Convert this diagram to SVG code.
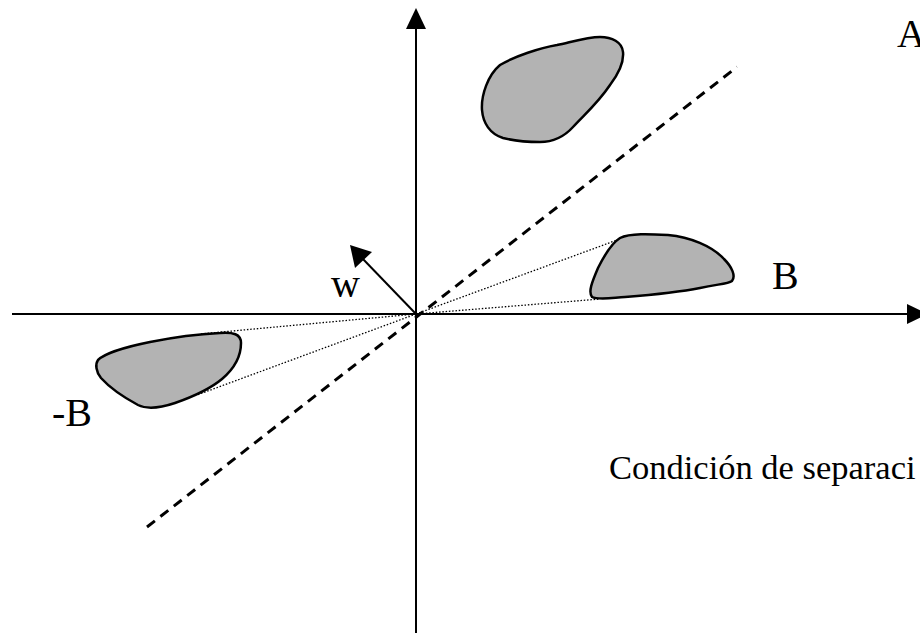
<svg xmlns="http://www.w3.org/2000/svg" width="920" height="633" viewBox="0 0 920 633">
<style>
.axis{stroke:#000;stroke-width:2;fill:none}
.blob{fill:#b3b3b3;stroke:#000;stroke-width:2.5;stroke-linejoin:round}
.dot{stroke:#000;stroke-width:1.3;stroke-dasharray:1.5 1.8;fill:none}
.dash{stroke:#000;stroke-width:3;stroke-dasharray:10 7;fill:none}
.lbl{font-family:"Liberation Serif","Times New Roman",serif;font-size:40px;fill:#000}
.cap{font-family:"Liberation Serif","Times New Roman",serif;font-size:34.5px;fill:#000}
</style>
<rect width="920" height="633" fill="#fff"/>
<g id="connectors">
<line class="axis" x1="416" y1="26" x2="416" y2="633"/>
<polygon points="416,8 406,29 426,29" fill="#000"/>
<line class="axis" x1="12" y1="314" x2="910" y2="314"/>
<polygon points="928,314 907,304 907,324" fill="#000"/>
<line class="dash" x1="147" y1="527" x2="737" y2="67"/>
<line class="dot" x1="416" y1="314" x2="628" y2="236"/>
<line class="dot" x1="416" y1="314" x2="600" y2="299"/>
<line class="dot" x1="416" y1="314" x2="200" y2="334"/>
<line class="dot" x1="416" y1="314" x2="197" y2="395"/>
<line class="axis" x1="416" y1="314" x2="362" y2="258"/>
<polygon points="350,245 355,268 372,252" fill="#000"/>
</g>
<g id="blobA">
<path class="blob" d="M500,65 C515,56 540,48 557,45 C575,41 588,37 600,37 C612,37 622,42 623,52 C624,62 620,72 610,85 C598,103 585,114 573,127 C563,138 552,142 540,142 C528,142 515,141 503,138 C490,134 483,123 482,110 C481,95 488,75 500,65 Z"/>
</g>
<g id="blobB">
<path class="blob" d="M620,238 C630,233 650,234 668,235 C690,237 712,246 724,259 C732,267 736,276 732,281 C728,284 718,284 700,288 C680,292 650,295 625,297 C610,298 598,300 592,297 C588,292 592,282 598,268 C604,256 612,243 620,238 Z"/>
</g>
<g id="blobNegB">
<path class="blob" d="M98,360 C104,354 125,347 150,342 C175,337 200,334 220,333 C233,332 241,334 241,343 C241,355 235,368 222,379 C210,389 195,396 175,403 C160,408 146,409 138,405 C125,398 110,388 101,378 C96,372 95,364 98,360 Z"/>
</g>
<g id="labels">
<text class="lbl" x="897" y="47">A</text>
<text class="lbl" x="772" y="289">B</text>
<text class="lbl" x="52" y="426">-B</text>
<text class="lbl" x="331" y="297">w</text>
<text class="cap" x="609" y="479">Condición de separaci</text>
</g>
</svg>
